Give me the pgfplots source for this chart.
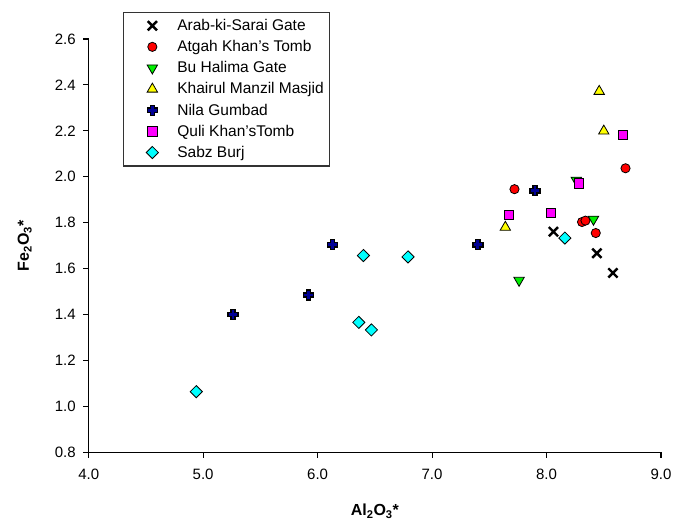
\documentclass[border=0pt]{standalone}
\usepackage{pgfplots}
\pgfplotsset{compat=1.18}
\usepackage{fontspec}
\setmainfont{Liberation Sans}
\pgfdeclareplotmark{fatplus}{%
  \pgfmathsetmacro{\r}{\pgfplotmarksize}%
  \pgfmathsetmacro{\a}{0.42*\pgfplotmarksize}%
  \pgfpathmoveto{\pgfpoint{-\a pt}{\r pt}}%
  \pgfpathlineto{\pgfpoint{\a pt}{\r pt}}%
  \pgfpathlineto{\pgfpoint{\a pt}{\a pt}}%
  \pgfpathlineto{\pgfpoint{\r pt}{\a pt}}%
  \pgfpathlineto{\pgfpoint{\r pt}{-\a pt}}%
  \pgfpathlineto{\pgfpoint{\a pt}{-\a pt}}%
  \pgfpathlineto{\pgfpoint{\a pt}{-\r pt}}%
  \pgfpathlineto{\pgfpoint{-\a pt}{-\r pt}}%
  \pgfpathlineto{\pgfpoint{-\a pt}{-\a pt}}%
  \pgfpathlineto{\pgfpoint{-\r pt}{-\a pt}}%
  \pgfpathlineto{\pgfpoint{-\r pt}{\a pt}}%
  \pgfpathlineto{\pgfpoint{-\a pt}{\a pt}}%
  \pgfpathclose
  \pgfusepathqfillstroke}
\definecolor{navyb}{RGB}{0,0,150}
\definecolor{cRed}{RGB}{255,0,0}
\definecolor{cGreen}{RGB}{0,240,0}
\definecolor{cYellow}{RGB}{255,255,0}
\definecolor{cMag}{RGB}{255,0,255}
\definecolor{cCyan}{RGB}{0,255,255}
\begin{document}
\begin{tikzpicture}
\useasboundingbox (-88.7pt,-70.7pt) rectangle (587.3pt,452.3pt);
\begin{axis}[
  scale only axis, width=572.3pt, height=413.3pt,
  at={(0,0)}, anchor=south west,
  xmin=4, xmax=9, ymin=0.8, ymax=2.6,
  xtick={4,5,6,7,8,9}, ytick={0.8,1.0,...,2.6},
  axis lines*=left, tick align=outside,
  major tick length=5.5pt,
  axis line style={line width=1.1pt},
  every tick/.style={line width=1.1pt, black},
  clip=false,
  font=\fontsize{15}{17}\selectfont,
  xticklabel style={yshift=-8pt, /pgf/number format/.cd, fixed, fixed zerofill, precision=1},
  yticklabel style={xshift=-4pt, /pgf/number format/.cd, fixed, fixed zerofill, precision=1},
  /pgf/number format/assume math mode=true,
  xlabel={\bfseries Al\textsubscript{2}O\textsubscript{3}*},
  ylabel={\bfseries Fe\textsubscript{2}O\textsubscript{3}*},
  xlabel style={at={([yshift=-59pt]axis description cs:0.5,0)}, anchor=center, font=\fontsize{16}{18}\selectfont},
  ylabel style={at={([xshift=-64pt]axis description cs:0,0.5)}, anchor=center, font=\fontsize{16}{18}\selectfont},
  legend style={at={(rel axis cs:0,1)}, anchor=north west, xshift=34pt, yshift=27.3pt,
    draw=black!80, line width=1.3pt, font=\fontsize{15.5}{17}\selectfont,
    inner xsep=4pt, inner ysep=5pt, row sep=4.4pt,
    cells={anchor=west}},
  legend cell align=left,
  legend image code/.code={\path[draw=none,fill=none] (0pt,-3pt) rectangle (48pt,3pt);
    \draw[only marks] plot coordinates {(25pt,0pt)};},
]
\addplot[only marks, mark=x, mark size=6.5pt, line width=2.4pt, black]
  coordinates {(8.06,1.761) (8.44,1.667) (8.58,1.581)};
\addlegendentry{Arab-ki-Sarai Gate}
\addplot[only marks, mark=*, mark size=4.6pt, draw=black, fill=cRed, line width=0.8pt]
  coordinates {(7.72,1.946) (8.31,1.803) (8.34,1.809) (8.43,1.755) (8.69,2.037)};
\addlegendentry{Atgah Khan's Tomb}
\addplot[only marks, mark=triangle*, mark size=6pt, mark options={rotate=180}, draw=black, fill=cGreen, line width=0.8pt]
  coordinates {(8.26,1.985) (8.41,1.815) (7.76,1.549)};
\addlegendentry{Bu Halima Gate}
\addplot[only marks, mark=triangle*, mark size=6pt, draw=black, fill=cYellow, line width=0.8pt]
  coordinates {(8.46,2.372) (8.50,2.199) (7.64,1.780)};
\addlegendentry{Khairul Manzil Masjid}
\addplot[only marks, mark=fatplus, mark size=5pt, draw=black, fill=navyb, line width=1.4pt]
  coordinates {(5.26,1.400) (5.92,1.485) (6.13,1.704) (7.40,1.704) (7.90,1.939)};
\addlegendentry{Nila Gumbad}
\addplot[only marks, mark=square*, mark size=4.6pt, draw=black, fill=cMag, line width=0.8pt]
  coordinates {(7.67,1.835) (8.04,1.841) (8.28,1.971) (8.67,2.184)};
\addlegendentry{Quli Khan'sTomb}
\addplot[only marks, mark=square*, mark size=4.3pt, mark options={rotate=45}, draw=black, fill=cCyan, line width=0.8pt]
  coordinates {(4.94,1.064) (6.36,1.366) (6.40,1.657) (6.47,1.333) (6.79,1.651) (8.16,1.733)};
\addlegendentry{Sabz Burj}
\end{axis}
\end{tikzpicture}
\end{document}
